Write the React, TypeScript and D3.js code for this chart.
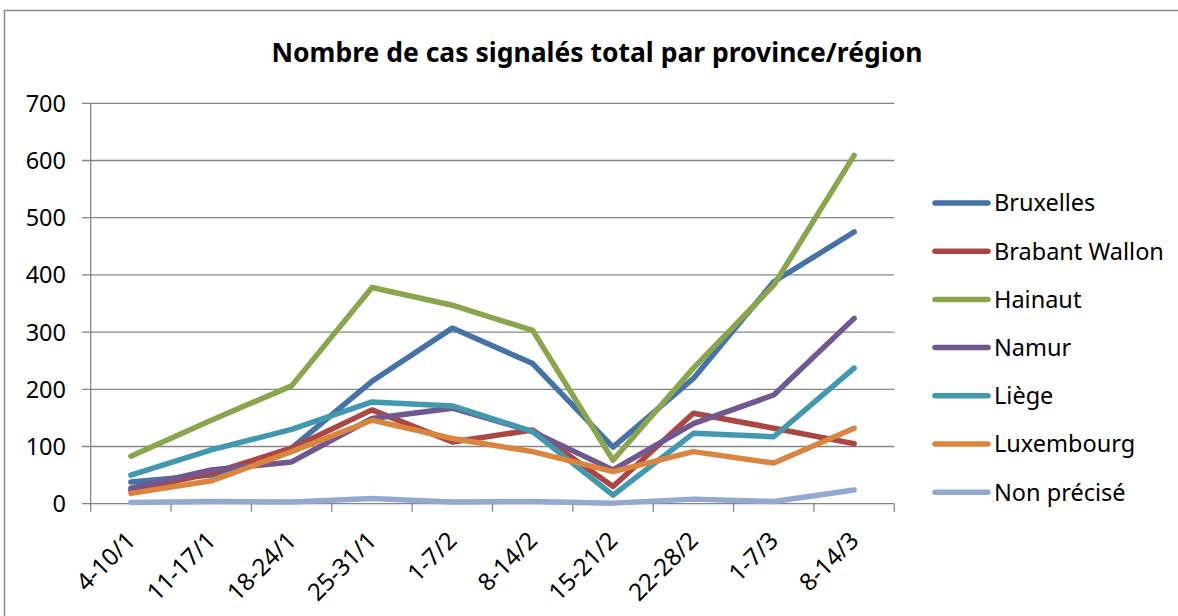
import React, { useRef, useEffect } from 'react';
import * as d3 from 'd3';

const weeks = ['4-10/1', '11-17/1', '18-24/1', '25-31/1', '1-7/2', '8-14/2', '15-21/2', '22-28/2', '1-7/3', '8-14/3'];
const regions = ['Bruxelles', 'Brabant Wallon', 'Hainaut', 'Namur', 'Liège', 'Luxembourg', 'Non précisé'];
const colors = ['#4572A7', '#AA4643', '#89A54E', '#71588F', '#4198AF', '#DB843D', '#93A9CF'];

const bruxelles = [38, 50, 97, 214, 307, 245, 99, 219, 388, 475];
const brabantWallon = [23, 53, 97, 164, 108, 129, 30, 158, 132, 105];
const hainaut = [83, 146, 206, 378, 347, 303, 76, 237, 382, 609];
const namur = [27, 59, 73, 149, 167, 126, 59, 140, 190, 324];
const liege = [50, 94, 130, 178, 171, 126, 15, 123, 117, 237];
const luxembourg = [18, 40, 91, 146, 114, 91, 56, 91, 71, 132];
const nonPrecise = [2, 4, 3, 9, 3, 4, 1, 8, 4, 24];

const series = [bruxelles, brabantWallon, hainaut, namur, liege, luxembourg, nonPrecise];
const yTicks = [0, 100, 200, 300, 400, 500, 600, 700];

export default function App() {
  const svgRef = useRef<SVGSVGElement>(null);

  useEffect(() => {
    const svg = d3.select(svgRef.current);
    svg.selectAll('*').remove();
    const font = '"Noto Sans", sans-serif';
    const fs = 23.5;

    // chart frame (only top and left edges visible)
    svg.append('path')
      .attr('d', 'M4.5,616 L4.5,10.5 L1178,10.5')
      .attr('fill', 'none')
      .attr('stroke', '#8c8c8c')
      .attr('stroke-width', 1.5);

    svg.append('text')
      .attr('x', 597)
      .attr('y', 62)
      .attr('text-anchor', 'middle')
      .attr('font-family', font)
      .attr('font-weight', 'bold')
      .attr('font-size', 26.5)
      .text('Nombre de cas signalés total par province/région');

    const x = d3.scaleBand().domain(weeks).range([90.7, 894.3]);
    const y = d3.scaleLinear().domain([0, 700]).range([503.7, 103.3]);

    // gridlines
    svg.append('g')
      .selectAll('line')
      .data(yTicks)
      .join('line')
      .attr('x1', 82)
      .attr('x2', 894.3)
      .attr('y1', d => y(d))
      .attr('y2', d => y(d))
      .attr('stroke', '#868686')
      .attr('stroke-width', 1.3);

    // y axis line
    svg.append('line')
      .attr('x1', 90.7).attr('x2', 90.7)
      .attr('y1', y(700)).attr('y2', y(0))
      .attr('stroke', '#868686').attr('stroke-width', 1.3);

    // x tick marks
    svg.append('g')
      .selectAll('line')
      .data(weeks.concat(['end']))
      .join('line')
      .attr('x1', (d, i) => 90.7 + i * x.step())
      .attr('x2', (d, i) => 90.7 + i * x.step())
      .attr('y1', y(0))
      .attr('y2', y(0) + 8)
      .attr('stroke', '#868686')
      .attr('stroke-width', 1.3);

    svg.append('g')
      .selectAll('text')
      .data(yTicks)
      .join('text')
      .attr('x', 66)
      .attr('y', d => y(d))
      .attr('dy', '0.36em')
      .attr('text-anchor', 'end')
      .attr('font-family', font)
      .attr('font-size', fs)
      .text(d => d);

    svg.append('g')
      .selectAll('text')
      .data(weeks)
      .join('text')
      .attr('transform', d => `translate(${x(d)! + x.bandwidth() / 2 + 6},${542}) rotate(-45)`)
      .attr('text-anchor', 'end')
      .attr('font-family', font)
      .attr('font-size', 24)
      .text(d => d);

    const line = d3.line<number>()
      .x((d, i) => x(weeks[i])! + x.bandwidth() / 2)
      .y(d => y(d));

    series.forEach((s, k) => {
      svg.append('path')
        .datum(s)
        .attr('d', line)
        .attr('fill', 'none')
        .attr('stroke', colors[k])
        .attr('stroke-width', 5.5)
        .attr('stroke-linejoin', 'round')
        .attr('stroke-linecap', 'round');
    });

    // legend
    const legend = svg.append('g');
    regions.forEach((r, k) => {
      const ly = 203 + k * 48.2;
      legend.append('line')
        .attr('x1', 935).attr('x2', 988)
        .attr('y1', ly).attr('y2', ly)
        .attr('stroke', colors[k])
        .attr('stroke-width', 5.5)
        .attr('stroke-linecap', 'round');
      legend.append('text')
        .attr('x', 994)
        .attr('y', ly)
        .attr('dy', '0.36em')
        .attr('font-family', font)
        .attr('font-size', fs)
        .text(r);
    });
  }, []);

  return (
    <svg ref={svgRef} width={1178} height={616}
      style={{ position: 'fixed', left: 0, top: 0, background: '#fff' }} />
  );
}
